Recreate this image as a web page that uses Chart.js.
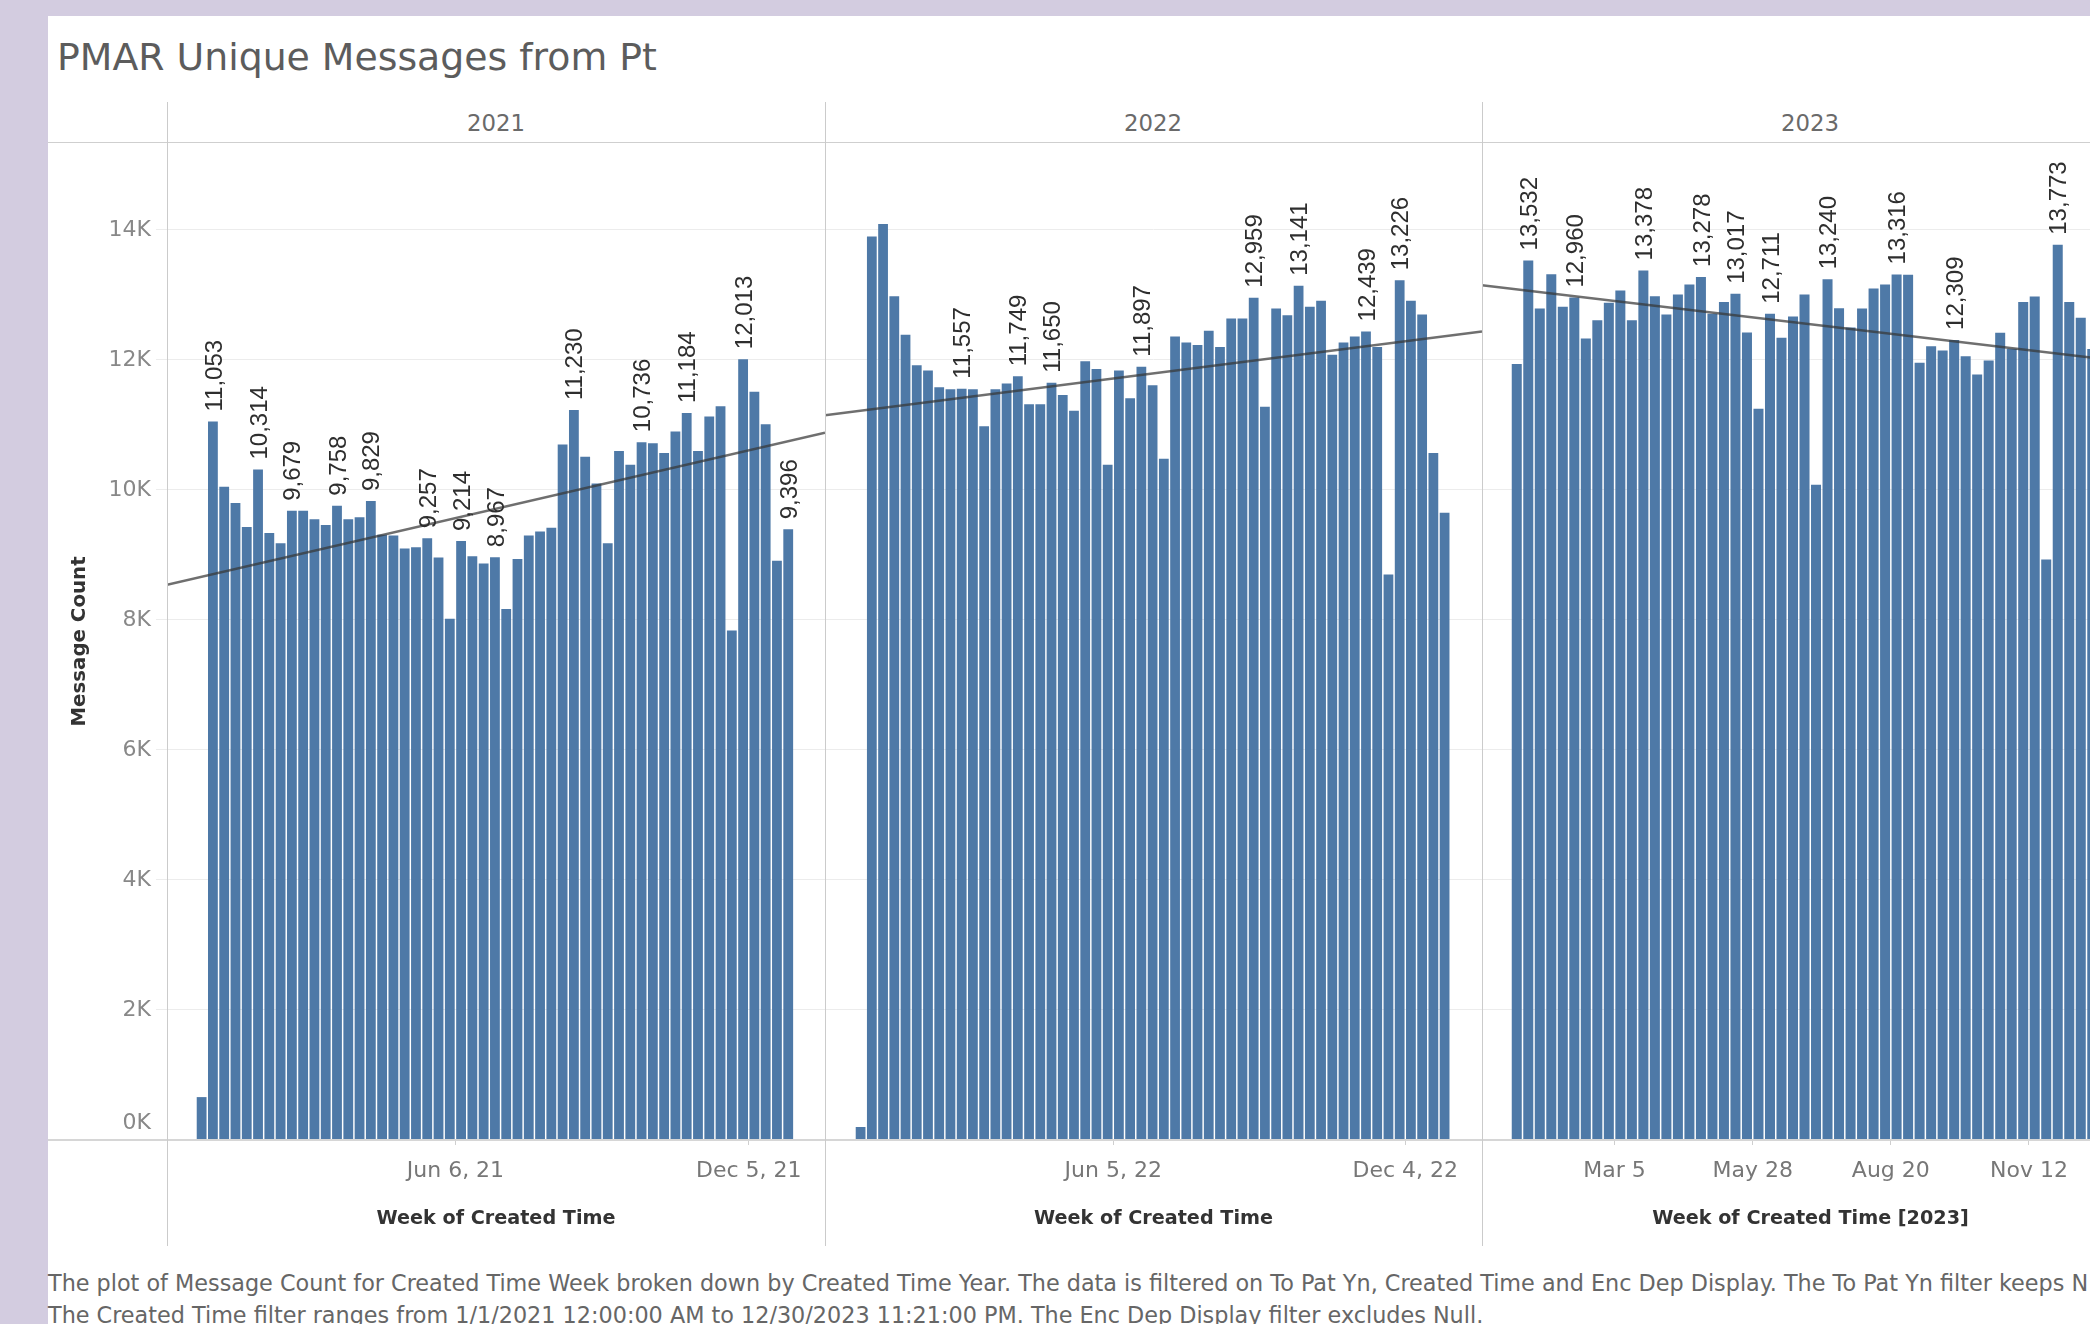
<!DOCTYPE html>
<html>
<head>
<meta charset="utf-8">
<script src="https://cdn.jsdelivr.net/npm/chart.js@4.4.1/dist/chart.umd.min.js"></script>
<style>
  html, body { margin: 0; padding: 0; }
  body { width: 2090px; height: 1324px; overflow: hidden; background: #d3cce0; position: relative; font-family: "DejaVu Sans", sans-serif; }
  #panel { position: absolute; left: 48px; top: 16px; width: 2042px; height: 1308px; background: #ffffff; }
  canvas { position: absolute; }
  .hline { position: absolute; height: 1px; background: #cfcfcf; }
  .vline { position: absolute; width: 1px; background: #cbcbcb; }
  .txt { position: absolute; white-space: nowrap; line-height: 1; }
  .left { transform: translateY(-50%); }
  .center { transform: translate(-50%, -50%); }
</style>
</head>
<body>
<div id="panel"></div>

<canvas id="c2021" width="777" height="1097" style="left:48px;top:143px;width:777px;height:1097px;"></canvas>
<canvas id="c2022" width="657" height="1097" style="left:825px;top:143px;width:657px;height:1097px;"></canvas>
<canvas id="c2023" width="657" height="1097" style="left:1482px;top:143px;width:657px;height:1097px;"></canvas>

<div class="hline" style="left:48px;top:142px;width:2042px;"></div>
<div class="hline" style="left:48px;top:1139px;width:2042px;height:2px;background:#d6d6d6;"></div>
<div class="vline" style="left:167px;top:102px;height:1144px;"></div>
<div class="vline" style="left:825px;top:102px;height:1144px;"></div>
<div class="vline" style="left:1482px;top:102px;height:1144px;"></div>

<div class="txt left" id="title" style="left:57px;top:58px;font-size:38px;color:#5c5c5c;font-weight:400;">PMAR Unique Messages from Pt</div>
<div class="txt center hdr" style="left:496px;top:123px;font-size:22px;color:#6a6a6a;">2021</div>
<div class="txt center hdr" style="left:1153px;top:123px;font-size:22px;color:#6a6a6a;">2022</div>
<div class="txt center hdr" style="left:1810px;top:123px;font-size:22px;color:#6a6a6a;">2023</div>
<div class="txt left" id="foot1" style="left:48px;top:1283px;font-size:19.5px;color:#666;">The plot of Message Count for Created Time Week broken down by Created Time Year. The data is filtered on To Pat Yn, Created Time and Enc Dep Display. The To Pat Yn filter keeps N</div>
<div class="txt left" id="foot2" style="left:48px;top:1315px;font-size:19.5px;color:#666;">The Created Time filter ranges from 1/1/2021 12:00:00 AM to 12/30/2023 11:21:00 PM. The Enc Dep Display filter excludes Null.</div>

<script>
// ---------------- DATA ----------------
const MONTHS = ['Jan','Feb','Mar','Apr','May','Jun','Jul','Aug','Sep','Oct','Nov','Dec'];
function weekStarts(startISO, n, withYear) {
  const out = [];
  const t0 = Date.parse(startISO + 'T00:00:00Z');
  for (let i = 0; i < n; i++) {
    const d = new Date(t0 + i * 7 * 864e5);
    out.push(MONTHS[d.getUTCMonth()] + ' ' + d.getUTCDate() + (withYear ? ', ' + String(d.getUTCFullYear()).slice(2) : ''));
  }
  return out;
}

const values2021 = [660, 11053, 10050, 9800, 9430, 10314, 9340, 9180, 9679, 9680, 9550, 9460, 9758, 9550, 9580, 9829, 9310, 9300, 9100, 9120, 9257, 8960, 8020, 9214, 8980, 8870, 8967, 8170, 8940, 9300, 9360, 9420, 10700, 11230, 10510, 10100, 9180, 10600, 10390, 10736, 10720, 10570, 10900, 11184, 10600, 11130, 11290, 7840, 12013, 11510, 11010, 8910, 9396];
const values2022 = [200, 13900, 14090, 12980, 12390, 11920, 11840, 11580, 11550, 11557, 11550, 10980, 11550, 11640, 11749, 11320, 11320, 11650, 11460, 11220, 11980, 11860, 10390, 11840, 11410, 11897, 11610, 10480, 12360, 12270, 12230, 12450, 12200, 12640, 12640, 12959, 11280, 12790, 12690, 13141, 12820, 12910, 12080, 12270, 12360, 12439, 12200, 8700, 13226, 12910, 12700, 10570, 9650];
const values2023 = [11940, 13532, 12790, 13320, 12820, 12960, 12330, 12610, 12880, 13070, 12610, 13378, 12980, 12700, 13008, 13161, 13278, 12710, 12890, 13017, 12423, 11250, 12711, 12341, 12669, 13008, 10080, 13240, 12797, 12500, 12790, 13100, 13160, 13316, 13310, 11957, 12213, 12146, 12309, 12059, 11777, 11992, 12418, 12172, 12890, 12977, 8930, 13773, 12890, 12649, 12170];

const weeks2021 = weekStarts('2020-12-27', values2021.length, true);
const weeks2022 = weekStarts('2021-12-26', values2022.length, true);
const weeks2023 = weekStarts('2023-01-01', values2023.length, false);

const labeled2021 = [1, 5, 8, 12, 15, 20, 23, 26, 33, 39, 43, 48, 52];
const labeled2022 = [9, 14, 17, 25, 35, 39, 45, 48];
const labeled2023 = [1, 5, 11, 16, 19, 22, 27, 33, 38, 47];

const trend2021 = [8540, 10880];
const trend2022 = [11150, 12440];
const trend2023 = [13150, 11950];

const tickLabels2021 = ['Jun 6, 21', 'Dec 5, 21'];
const tickLabels2022 = ['Jun 5, 22', 'Dec 4, 22'];
const tickLabels2023 = ['Mar 5', 'May 28', 'Aug 20', 'Nov 12'];

const yTickValues = [0, 2000, 4000, 6000, 8000, 10000, 12000, 14000];
const yTickLabels = ['0K', '2K', '4K', '6K', '8K', '10K', '12K', '14K'];

const xTitles = ['Week of Created Time', 'Week of Created Time', 'Week of Created Time [2023]'];
// --------------------------------------

const Y_MAX = 15338;
const FONT = '"DejaVu Sans", sans-serif';
Chart.defaults.font.family = FONT;

const barLabelPlugin = {
  id: 'barLabels',
  afterDatasetsDraw(chart, args, opts) {
    const meta = chart.getDatasetMeta(1);
    const ds = chart.data.datasets[1];
    const ctx = chart.ctx;
    ctx.save();
    ctx.font = '24px "Liberation Sans", Arial, sans-serif';
    ctx.fillStyle = '#2e2e2e';
    ctx.textAlign = 'left';
    ctx.textBaseline = 'alphabetic';
    const capH = 24 * 0.716;
    (opts.indices || []).forEach(i => {
      const el = meta.data[i];
      if (!el) return;
      const txt = ds.data[i].y.toLocaleString('en-US');
      ctx.save();
      ctx.translate(el.x, el.y - 10);
      ctx.rotate(-Math.PI / 2);
      ctx.fillText(txt, 0, capH / 2);
      ctx.restore();
    });
    ctx.restore();
  }
};

function makePanel(id, values, weeks, labeled, trend, tickLabels, xmin, xmax, xTitle, first) {
  const tickIdx = tickLabels.map(l => weeks.indexOf(l));
  return new Chart(document.getElementById(id), {
    type: 'bar',
    data: {
      datasets: [
        {
          type: 'line',
          data: [{ x: xmin, y: trend[0] }, { x: xmax, y: trend[1] }],
          borderColor: 'rgba(55,55,55,0.72)',
          borderWidth: 2.5,
          pointRadius: 0,
          order: 0
        },
        {
          type: 'bar',
          data: values.map((v, i) => ({ x: i + 0.5, y: v })),
          backgroundColor: '#4e79a7',
          barPercentage: 0.87,
          categoryPercentage: 1.0,
          order: 1
        }
      ]
    },
    options: {
      responsive: false,
      animation: false,
      events: [],
      layout: { padding: 0, autoPadding: false },
      plugins: {
        legend: { display: false },
        tooltip: { enabled: false },
        barLabels: { indices: labeled }
      },
      scales: {
        x: {
          type: 'linear',
          position: 'bottom',
          offset: false,
          bounds: 'data',
          min: xmin,
          max: xmax,
          afterFit(s) { s.height = 100; s.paddingLeft = 0; s.paddingRight = 0; },
          afterBuildTicks(s) { s.ticks = tickIdx.map(v => ({ value: v })); },
          ticks: {
            autoSkip: false,
            maxRotation: 0,
            padding: 13,
            color: '#777',
            font: { size: 22 },
            callback: (v, i) => tickLabels[i]
          },
          grid: { offset: false, drawOnChartArea: false, drawTicks: true, tickLength: 5, color: '#cfcfcf' },
          border: { display: false },
          title: {
            display: true,
            text: xTitle,
            color: '#333',
            font: { size: 19.2, weight: 'bold' },
            padding: { top: 0, bottom: 9.5 }
          }
        },
        y: {
          type: 'linear',
          bounds: 'data',
          min: 0,
          max: Y_MAX,
          afterFit(s) { s.width = first ? 119 : 0; s.paddingTop = 0; s.paddingBottom = 0; },
          afterBuildTicks(s) { s.ticks = yTickValues.map(v => ({ value: v })); },
          ticks: {
            display: first,
            padding: 5,
            color: '#888',
            font: { size: 22, lineHeight: 1.55 },
            callback: (v, i) => (v === 0 ? [yTickLabels[i], ''] : yTickLabels[i])
          },
          grid: { color: '#ececec', drawTicks: first, tickLength: 11 },
          border: { display: false },
          title: {
            display: first,
            text: 'Message Count',
            color: '#333',
            font: { size: 19.8, weight: 'bold' },
            padding: { top: 19.6, bottom: 0 }
          }
        }
      }
    },
    plugins: [barLabelPlugin]
  });
}

function fitWidth(el, target) {
  const w = el.getBoundingClientRect().width;
  const fs = parseFloat(getComputedStyle(el).fontSize);
  el.style.fontSize = (fs * target / w).toFixed(2) + 'px';
}

fitWidth(document.getElementById('title'), 600);
document.querySelectorAll('.hdr').forEach(el => fitWidth(el, 58));
const f1 = document.getElementById('foot1');
fitWidth(f1, 2041);
document.getElementById('foot2').style.fontSize = f1.style.fontSize;

makePanel('c2021', values2021, weeks2021, labeled2021, trend2021, tickLabels2021, -2.57, 55.76, xTitles[0], true);
makePanel('c2022', values2022, weeks2022, labeled2022, trend2022, tickLabels2022, -2.67, 55.83, xTitles[1], false);
makePanel('c2023', values2023, weeks2023, labeled2023, trend2023, tickLabels2023, -2.52, 54.56, xTitles[2], false);
</script>
</body>
</html>
